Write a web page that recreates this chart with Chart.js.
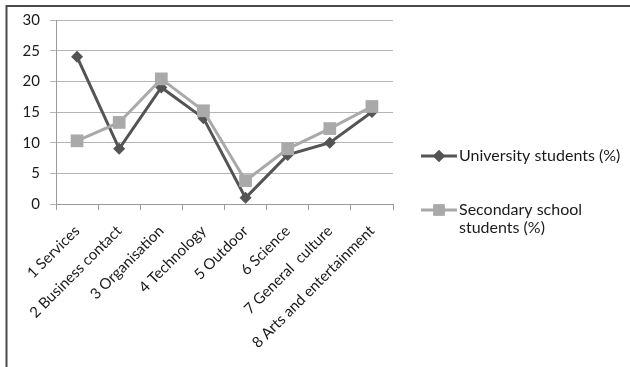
<!DOCTYPE html>
<html>
<head>
<meta charset="utf-8">
<script src="https://cdn.jsdelivr.net/npm/chart.js@4"></script>
<style>
  html, body { margin: 0; padding: 0; background: #fff; }
  #wrap { position: relative; width: 630px; height: 367px; }
</style>
</head>
<body>
<div id="wrap"><canvas id="chart" width="630" height="367"></canvas></div>
<script>
const categories = [
  '1 Services',
  '2 Business contact',
  '3 Organisation',
  '4 Technology',
  '5 Outdoor',
  '6 Science',
  '7 General  culture',
  '8 Arts and entertainment'
];
const university = [24, 9, 19, 14, 1, 8, 10, 15];
const secondary = [10.3, 13.3, 20.4, 15.2, 3.8, 9, 12.3, 15.9];
const yTicks = [0, 5, 10, 15, 20, 25, 30];

const darkGrey = '#545454';
const lightGrey = '#a9a9a9';
const fontFamily = 'Lato, "Open Sans", sans-serif';

// frame of the original picture (top and left edges only)
const framePlugin = {
  id: 'frame',
  afterDraw(chart) {
    const ctx = chart.ctx;
    ctx.save();
    ctx.strokeStyle = '#4a4a4a';
    ctx.lineWidth = 2;
    ctx.beginPath();
    ctx.moveTo(630, 6);
    ctx.lineTo(6.5, 6);
    ctx.lineTo(6.5, 367);
    ctx.stroke();
    ctx.restore();
  }
};

// legend on the right, second label wrapped on two lines
const legendPlugin = {
  id: 'sideLegend',
  afterDraw(chart) {
    const ctx = chart.ctx;
    const items = [
      { lines: ['University students (%)'], y: 156, color: darkGrey, style: 'rectRot', r: 6 },
      { lines: ['Secondary school', 'students (%)'], y: 210, color: lightGrey, style: 'rect', r: 8 }
    ];
    ctx.save();
    ctx.font = '16px ' + fontFamily;
    ctx.textBaseline = 'middle';
    items.forEach(it => {
      ctx.strokeStyle = it.color;
      ctx.lineWidth = 3;
      ctx.beginPath();
      ctx.moveTo(421, it.y);
      ctx.lineTo(457, it.y);
      ctx.stroke();
      ctx.fillStyle = it.color;
      Chart.helpers.drawPoint(ctx, { pointStyle: it.style, radius: it.r, borderWidth: 0 }, 439, it.y);
      ctx.fill();
      ctx.fillStyle = '#1a1a1a';
      it.lines.forEach((t, i) => ctx.fillText(t, 459, it.y + i * 18));
    });
    ctx.restore();
  }
};

new Chart(document.getElementById('chart'), {
  type: 'line',
  data: {
    labels: categories,
    datasets: [{
      label: 'University students (%)',
      data: university,
      borderColor: darkGrey,
      backgroundColor: darkGrey,
      borderWidth: 3,
      pointStyle: 'rectRot',
      pointRadius: 6,
      pointBorderWidth: 0,
      tension: 0,
      order: 1
    }, {
      label: 'Secondary school students (%)',
      data: secondary,
      borderColor: lightGrey,
      backgroundColor: lightGrey,
      borderWidth: 3,
      pointStyle: 'rect',
      pointRadius: 9,
      pointBorderWidth: 0,
      tension: 0,
      order: 0
    }]
  },
  options: {
    responsive: false,
    animation: false,
    layout: { padding: { top: 20, right: 237, left: 0, bottom: 0 } },
    plugins: {
      legend: { display: false },
      tooltip: { enabled: false }
    },
    scales: {
      x: {
        offset: true,
        afterFit(scale) { scale.height = 163; },
        grid: {
          offset: true,
          drawOnChartArea: false,
          drawTicks: true,
          tickLength: 6,
          color: '#9a9a9a'
        },
        border: { color: '#9a9a9a' },
        ticks: {
          minRotation: 45,
          maxRotation: 45,
          autoSkip: false,
          padding: 12,
          color: '#1a1a1a',
          font: { family: fontFamily, size: 15 }
        }
      },
      y: {
        min: 0,
        max: 30,
        afterFit(scale) { scale.width = 56; },
        afterBuildTicks(scale) { scale.ticks = yTicks.map(v => ({ value: v })); },
        grid: {
          color: '#b5b5b5',
          tickLength: 6
        },
        border: { color: '#9a9a9a' },
        ticks: {
          padding: 10,
          color: '#1a1a1a',
          font: { family: fontFamily, size: 15 }
        }
      }
    }
  },
  plugins: [framePlugin, legendPlugin]
});
</script>
</body>
</html>
